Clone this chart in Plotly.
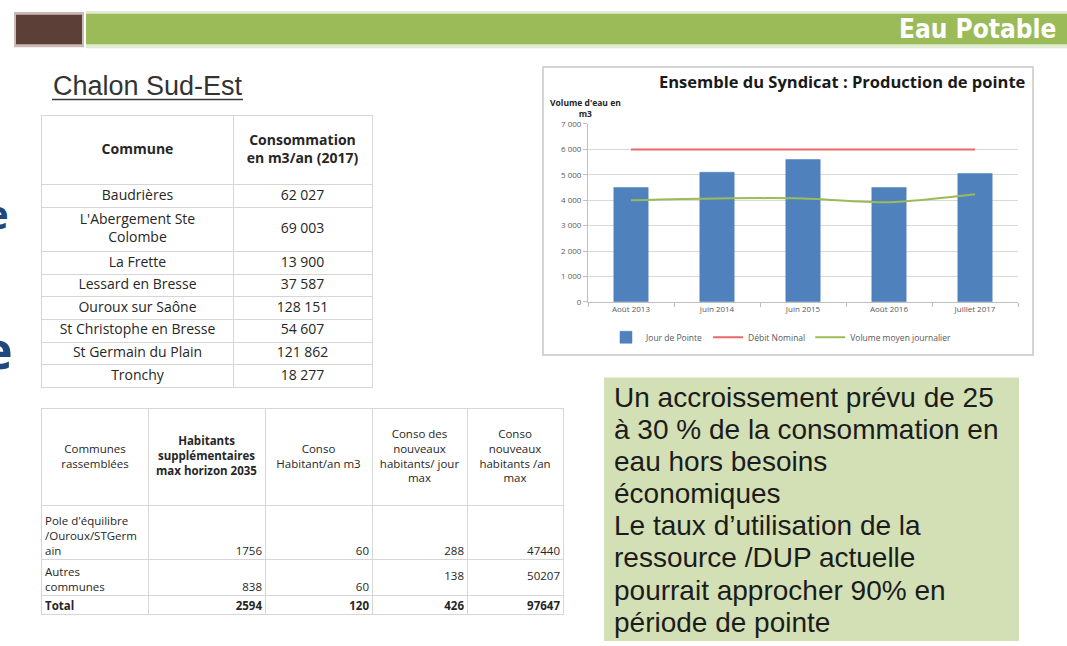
import plotly.graph_objects as go

W, H = 1067, 646

# ---------------- data : chart ----------------
periods = ["Août 2013", "Juin 2014", "Juin 2015", "Août 2016", "Juillet 2017"]
jour_pointe = [4500, 5100, 5600, 4500, 5050]
debit_nominal = [6000, 6000, 6000, 6000, 6000]
volume_moyen = [4000, 4070, 4070, 3920, 4230]
y_tick_values = [0, 1000, 2000, 3000, 4000, 5000, 6000, 7000]

# ---------------- data : table 1 ----------------
t1_headers = ["Commune", "Consommation<br>en m3/an (2017)"]
t1_communes = ["Baudrières", "L'Abergement Ste<br>Colombe", "La Frette", "Lessard en Bresse",
               "Ouroux sur Saône", "St Christophe en Bresse", "St Germain du Plain", "Tronchy"]
t1_conso = [62027, 69003, 13900, 37587, 128151, 54607, 121862, 18277]

# ---------------- data : table 2 ----------------
t2_headers = ["Communes<br>rassemblées", "<b>Habitants<br>supplémentaires<br>max horizon 2035</b>",
              "Conso<br>Habitant/an m3", "Conso des<br>nouveaux<br>habitants/ jour<br>max",
              "Conso<br>nouveaux<br>habitants /an<br>max"]
t2_groupes = ["Pole d'équilibre<br>/Ouroux/STGerm<br>ain", "Autres<br>communes", "Total"]
t2_hab_supp = [1756, 838, 2594]
t2_conso_hab = [60, 60, 120]
t2_conso_jour = [288, 138, 426]
t2_conso_an = [47440, 50207, 97647]

# ---------------- texts ----------------
bandeau = "Eau Potable"
titre_zone = "Chalon Sud-Est"
chart_title = "Ensemble du Syndicat : Production de pointe"
y_title = "Volume d'eau en<br>m3"
note_lines = ["Un accroissement prévu de 25",
              "à 30 % de la consommation en",
              "eau hors besoins",
              "économiques",
              "Le taux d\u2019utilisation de la",
              "ressource /DUP actuelle",
              "pourrait approcher 90% en",
              "période de pointe"]


def px(x):
    return x / W


def py(y):
    return 1 - y / H


def nlines(s):
    return s.count("<br>") + 1


def fmt_space(v):
    return f"{v:,}".replace(",", "\u00a0")


fig = go.Figure()

# ---------------- chart traces ----------------
fig.add_trace(go.Bar(x=periods, y=jour_pointe, name="Jour de Pointe", width=0.4,
                     marker=dict(color="#4F81BD", line=dict(color="#4A7EBB", width=0.5)),
                     xaxis="x", yaxis="y"))
fig.add_trace(go.Scatter(x=periods, y=debit_nominal, name="Débit Nominal", mode="lines",
                         line=dict(color="#E8696B", width=2), xaxis="x", yaxis="y"))
fig.add_trace(go.Scatter(x=periods, y=volume_moyen, name="Volume moyen journalier", mode="lines",
                         line=dict(color="#9BBB59", width=2, shape="spline", smoothing=0.8),
                         xaxis="x", yaxis="y"))

GRID = "#D6D6D6"
TXT = "#262626"


def table_axes(left, top, col_w, row_h):
    wsum = sum(col_w)
    hsum = sum(row_h)
    xb, acc = [], 0
    for w in col_w[:-1]:
        acc += w
        xb.append(acc)
    yb, acc = [], 0
    for h in row_h[:-1]:
        acc += h
        yb.append(acc)
    common = dict(showticklabels=False, ticks="", zeroline=False, showgrid=True,
                  gridcolor=GRID, gridwidth=1.2, showline=True, mirror=True,
                  linecolor=GRID, linewidth=1.2, fixedrange=True)
    xa = dict(domain=[px(left), px(left + wsum)], range=[0, wsum], tickmode="array",
              tickvals=xb, **common)
    ya = dict(domain=[py(top + hsum), py(top)], range=[hsum, 0], tickmode="array",
              tickvals=yb, **common)
    return xa, ya


# ---------------- table 1 ----------------
T1_LEFT, T1_TOP = 42, 112
T1_COLW = [191, 139]
T1_HEAD_H = 70
t1_body = [[c, fmt_space(v)] for c, v in zip(t1_communes, t1_conso)]
t1_row_h = [T1_HEAD_H] + [23 + 22 * (max(nlines(s) for s in r) - 1) for r in t1_body]
xa2, ya2 = table_axes(T1_LEFT, T1_TOP, T1_COLW, t1_row_h)

xs, ys, tx, tp = [], [], [], []
col_left = [sum(T1_COLW[:i]) for i in range(len(T1_COLW))]
row_top = [sum(t1_row_h[:i]) for i in range(len(t1_row_h))]
for j, h in enumerate(t1_headers):
    xs.append(col_left[j] + T1_COLW[j] / 2)
    ys.append(T1_HEAD_H / 2)
    tx.append(f"<b>{h}</b>")
    tp.append("middle center")
for i, r in enumerate(t1_body):
    for j, s in enumerate(r):
        xs.append(col_left[j] + T1_COLW[j] / 2)
        ys.append(row_top[i + 1] + t1_row_h[i + 1] / 2)
        tx.append(s)
        tp.append("middle center")
fig.add_trace(go.Scatter(x=xs, y=ys, text=tx, mode="text", textposition=tp,
                         textfont=dict(family="Open Sans", size=14, color=TXT),
                         xaxis="x2", yaxis="y2", showlegend=False, hoverinfo="skip"))

# ---------------- table 2 ----------------
T2_LEFT, T2_TOP = 42, 410
T2_COLW = [106, 117, 107, 95, 96]
T2_HEAD_H = 98
t2_body = [[g, str(a), str(b), str(c), str(d)] for g, a, b, c, d in
           zip(t2_groupes, t2_hab_supp, t2_conso_hab, t2_conso_jour, t2_conso_an)]
t2_valign = [["bottom"] * 5,
             ["bottom", "bottom", "bottom", "middle", "middle"],
             ["bottom"] * 5]
t2_bold_rows = [2]
t2_row_h = [T2_HEAD_H] + [19 + 18 * (max(nlines(s) for s in r) - 1) for r in t2_body]
xa3, ya3 = table_axes(T2_LEFT, T2_TOP, T2_COLW, t2_row_h)

xs, ys, tx, tp = [], [], [], []
col_left = [sum(T2_COLW[:i]) for i in range(len(T2_COLW))]
row_top = [sum(t2_row_h[:i]) for i in range(len(t2_row_h))]
for j, h in enumerate(t2_headers):
    xs.append(col_left[j] + T2_COLW[j] / 2)
    ys.append(T2_HEAD_H / 2)
    tx.append(h)
    tp.append("middle center")
for i, r in enumerate(t2_body):
    top = row_top[i + 1]
    rh = t2_row_h[i + 1]
    for j, s in enumerate(r):
        txt = f"<b>{s}</b>" if i in t2_bold_rows else s
        va = t2_valign[i][j]
        if j == 0:
            xs.append(col_left[j] + 3)
            side = "right"
        else:
            xs.append(col_left[j] + T2_COLW[j] - 3)
            side = "left"
        if va == "bottom":
            ys.append(top + rh - 2)
            tp.append("top " + side)
        else:
            ys.append(top + rh / 2)
            tp.append("middle " + side)
        tx.append(txt)
fig.add_trace(go.Scatter(x=xs, y=ys, text=tx, mode="text", textposition=tp,
                         textfont=dict(family="Open Sans", size=11.5, color=TXT),
                         xaxis="x3", yaxis="y3", showlegend=False, hoverinfo="skip"))

# ---------------- shapes ----------------
shapes = [
    # header band
    dict(type="rect", xref="paper", yref="paper", x0=px(14), x1=px(84), y0=py(42), y1=py(6),
         fillcolor="#C9BAB5", line=dict(width=0), layer="below"),
    dict(type="rect", xref="paper", yref="paper", x0=px(16), x1=px(82), y0=py(39), y1=py(9),
         fillcolor="#5C4037", line=dict(width=0), layer="below"),
    dict(type="rect", xref="paper", yref="paper", x0=px(86), x1=px(1067), y0=py(43), y1=py(5),
         fillcolor="#E2EBD3", line=dict(width=0), layer="below"),
    dict(type="rect", xref="paper", yref="paper", x0=px(86), x1=px(1067), y0=py(39), y1=py(8),
         fillcolor="#9BBB59", line=dict(width=0), layer="below"),
    # underline of zone title
    dict(type="line", xref="paper", yref="paper", x0=px(52), x1=px(243), y0=py(95), y1=py(95),
         line=dict(color="#3A3A3A", width=1.5)),
    # chart frame
    dict(type="rect", xref="paper", yref="paper", x0=px(543), x1=px(1033), y0=py(355), y1=py(62),
         fillcolor="white", line=dict(color="#C8C8C8", width=1.5), layer="below"),
    # note box
    dict(type="rect", xref="paper", yref="paper", x0=px(604), x1=px(1019), y0=0, y1=py(378),
         fillcolor="#D3E0B6", line=dict(width=0), layer="below"),
]

# ---------------- annotations ----------------
ann = [
    dict(text=f"<b>{bandeau}</b>", x=px(1058), y=py(23), xanchor="right", yanchor="middle",
         font=dict(family="DejaVu Sans Condensed", size=26, color="white")),
    dict(text=titre_zone, x=px(51), y=py(81), xanchor="left", yanchor="middle",
         font=dict(family="Liberation Sans", size=27, color="#333333")),
    dict(text="<b>e</b>", x=px(11), y=py(211), xanchor="right", yanchor="middle",
         font=dict(family="Open Sans", size=40, color="#1F497D")),
    dict(text="<b>e</b>", x=px(15), y=py(348), xanchor="right", yanchor="middle",
         font=dict(family="Open Sans", size=52, color="#1F497D")),
    dict(text=f"<b>{chart_title}</b>", x=px(1028), y=py(77), xanchor="right", yanchor="middle",
         font=dict(family="Open Sans", size=16.5, color="#1A1A1A")),
    dict(text=f"<b>{y_title}</b>", x=px(585), y=py(104), xanchor="center", yanchor="middle",
         align="center", font=dict(family="Open Sans", size=8.5, color="#262626")),
]
NOTE_Y0, NOTE_DY = 398, 32.7
for k, line in enumerate(note_lines):
    ann.append(dict(text=line, x=px(612), y=py(NOTE_Y0 + k * NOTE_DY), xanchor="left",
                    yanchor="middle",
                    font=dict(family="Liberation Sans", size=28, color="#1C1C1C")))
for a in ann:
    a.update(xref="paper", yref="paper", showarrow=False)

fig.update_layout(
    width=W, height=H, autosize=False,
    margin=dict(l=0, r=0, t=0, b=0),
    paper_bgcolor="white", plot_bgcolor="rgba(0,0,0,0)",
    separators=", ",
    font=dict(family="Open Sans", color="#404040"),
    bargap=0.6,
    shapes=shapes, annotations=ann,
    xaxis=dict(domain=[px(588), px(1018)], anchor="y", showline=True, linecolor="#BFBFBF",
               linewidth=1, ticks="outside", tickson="boundaries", ticklen=4,
               tickcolor="#BFBFBF", tickfont=dict(size=8, color="#595959"),
               showgrid=False, fixedrange=True),
    yaxis=dict(domain=[py(301), py(120)], anchor="x", range=[0, 7000], tickmode="array",
               tickvals=y_tick_values, tickformat=",d", showgrid=True, gridcolor="#D9D9D9",
               showline=True, linecolor="#BFBFBF", ticks="outside", ticklen=4,
               tickcolor="#BFBFBF", tickfont=dict(size=8, color="#595959"),
               zeroline=False, fixedrange=True),
    xaxis2=dict(anchor="y2", **xa2), yaxis2=dict(anchor="x2", **ya2),
    xaxis3=dict(anchor="y3", **xa3), yaxis3=dict(anchor="x3", **ya3),
    legend=dict(orientation="h", x=px(606), y=py(337), xanchor="left", yanchor="middle",
                font=dict(size=8.5, color="#595959"), bgcolor="rgba(0,0,0,0)", itemwidth=30,
                tracegroupgap=0),
)

fig.write_html(
    "out.html",
    config={"displayModeBar": False},
    post_script="document.body.style.margin='0';document.body.style.overflow='hidden';",
)
